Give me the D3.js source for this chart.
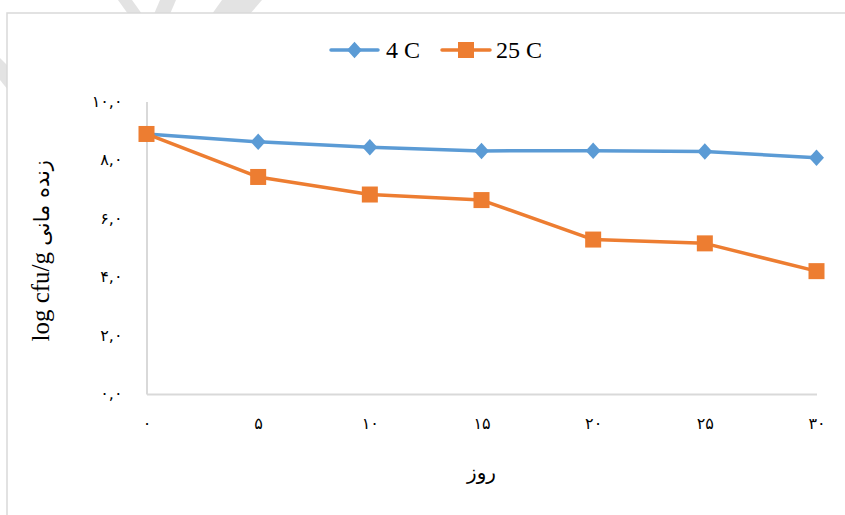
<!DOCTYPE html>
<html>
<head>
<meta charset="utf-8">
<script src="https://cdn.jsdelivr.net/npm/d3@7"></script>
<style>
  html, body { margin: 0; padding: 0; background: #fff; }
  svg { display: block; }
</style>
</head>
<body>
<svg id="chart" width="845" height="515"></svg>
<script>
// Storage days and survival (log cfu/g) at two temperatures
const days = [0, 5, 10, 15, 20, 25, 30];
const dayLabels = ["۰", "۵", "۱۰", "۱۵", "۲۰", "۲۵", "۳۰"];
const series4C = [8.89, 8.62, 8.44, 8.31, 8.32, 8.29, 8.08];
const series25C = [8.89, 7.42, 6.82, 6.63, 5.28, 5.15, 4.20];
const seriesNames = ["4 C", "25 C"];
const yTicks = [0, 2, 4, 6, 8, 10];
const yTickLabels = ["۰,۰", "۲,۰", "۴,۰", "۶,۰", "۸,۰", "۱۰,۰"];

const svg = d3.select("#chart");
const W = 845, H = 515;

// faint background watermark strokes peeking around the chart frame
const wm = svg.append("g").attr("fill", "#e3e3e3");
wm.append("path").attr("d", "M118,0 L132,0 L142,14 L128,14 Z");
wm.append("path").attr("d", "M160,0 L176,0 L170,14 L154,14 Z");
wm.append("path").attr("d", "M222,0 L262,0 L250,14 L212,14 Z");
wm.append("path").attr("d", "M0,58 L8,66 L8,90 L0,80 Z");

// chart frame
svg.append("rect")
  .attr("x", 7).attr("y", 13)
  .attr("width", W + 10).attr("height", H + 10)
  .attr("fill", "#fff")
  .attr("stroke", "#d9d9d9").attr("stroke-width", 1.5);

const plot = { left: 146.5, right: 816.5, top: 101.5, bottom: 394 };

const x = d3.scalePoint().domain(days).range([plot.left, plot.right]);
const y = d3.scaleLinear().domain([0, 10]).range([plot.bottom, plot.top]);

// axes
const xAxis = d3.axisBottom(x).tickSize(0).tickFormat((d, i) => dayLabels[i]);
const yAxis = d3.axisLeft(y).tickValues(yTicks).tickSize(0)
  .tickFormat((d, i) => yTickLabels[i]);

const gx = svg.append("g").attr("transform", `translate(0,${plot.bottom})`).call(xAxis);
gx.select(".domain").attr("stroke", "#d9d9d9").attr("stroke-width", 2);
gx.selectAll("text")
  .attr("font-family", "DejaVu Sans").attr("font-size", 16).attr("fill", "#000")
  .attr("dy", 0).attr("y", 35);

const gy = svg.append("g").attr("transform", `translate(${plot.left},0)`).call(yAxis);
gy.select(".domain").attr("stroke", "#d9d9d9").attr("stroke-width", 2);
gy.selectAll("text")
  .attr("font-family", "DejaVu Sans").attr("font-size", 16).attr("fill", "#000")
  .attr("x", -24).attr("dy", "0.3em");

// series
const colors = ["#5b9bd5", "#ed7d31"];
const allSeries = [series4C, series25C];
const line = d3.line().x((d, i) => x(days[i])).y(d => y(d));

const diamond = (s) => `M0,${-s * 1.1} L${s},0 L0,${s * 1.1} L${-s},0 Z`;

allSeries.forEach((vals, k) => {
  const g = svg.append("g");
  g.append("path").datum(vals)
    .attr("d", line)
    .attr("fill", "none")
    .attr("stroke", colors[k]).attr("stroke-width", 3.5)
    .attr("stroke-linejoin", "round").attr("stroke-linecap", "round");
  vals.forEach((v, i) => {
    if (k === 0) {
      g.append("path")
        .attr("transform", `translate(${x(days[i])},${y(v)})`)
        .attr("d", diamond(7.5)).attr("fill", colors[k]);
    } else {
      g.append("rect")
        .attr("x", x(days[i]) - 8).attr("y", y(v) - 8)
        .attr("width", 16).attr("height", 16).attr("fill", colors[k]);
    }
  });
});

// legend
const legend = svg.append("g");
const legendItems = [
  { x0: 331, x1: 378, tx: 386, k: 0 },
  { x0: 442, x1: 490, tx: 496, k: 1 }
];
legendItems.forEach(it => {
  const cy = 50;
  legend.append("line")
    .attr("x1", it.x0).attr("x2", it.x1).attr("y1", cy).attr("y2", cy)
    .attr("stroke", colors[it.k]).attr("stroke-width", 3.5).attr("stroke-linecap", "round");
  const mx = (it.x0 + it.x1) / 2;
  if (it.k === 0) {
    legend.append("path").attr("transform", `translate(${mx},${cy})`)
      .attr("d", diamond(7.5)).attr("fill", colors[0]);
  } else {
    legend.append("rect").attr("x", mx - 8).attr("y", cy - 8)
      .attr("width", 16).attr("height", 16).attr("fill", colors[1]);
  }
  legend.append("text")
    .attr("x", it.tx).attr("y", cy).attr("dy", "0.35em")
    .attr("font-family", "Liberation Serif").attr("font-size", 24).attr("fill", "#000")
    .text(seriesNames[it.k]);
});

// axis titles
const yTitle = svg.append("text")
  .attr("transform", `translate(49,${(plot.top + plot.bottom) / 2 + 3}) rotate(-90)`)
  .attr("text-anchor", "middle")
  .attr("fill", "#000");
yTitle.append("tspan").attr("font-family", "Liberation Serif").attr("font-size", 25).text("log cfu/g ");
yTitle.append("tspan").attr("font-family", "DejaVu Sans").attr("font-size", 21).text("زنده مانی");

svg.append("text")
  .attr("x", (plot.left + plot.right) / 2).attr("y", 479)
  .attr("text-anchor", "middle")
  .attr("font-family", "DejaVu Sans").attr("font-size", 20).attr("fill", "#000")
  .text("روز");
</script>
</body>
</html>
